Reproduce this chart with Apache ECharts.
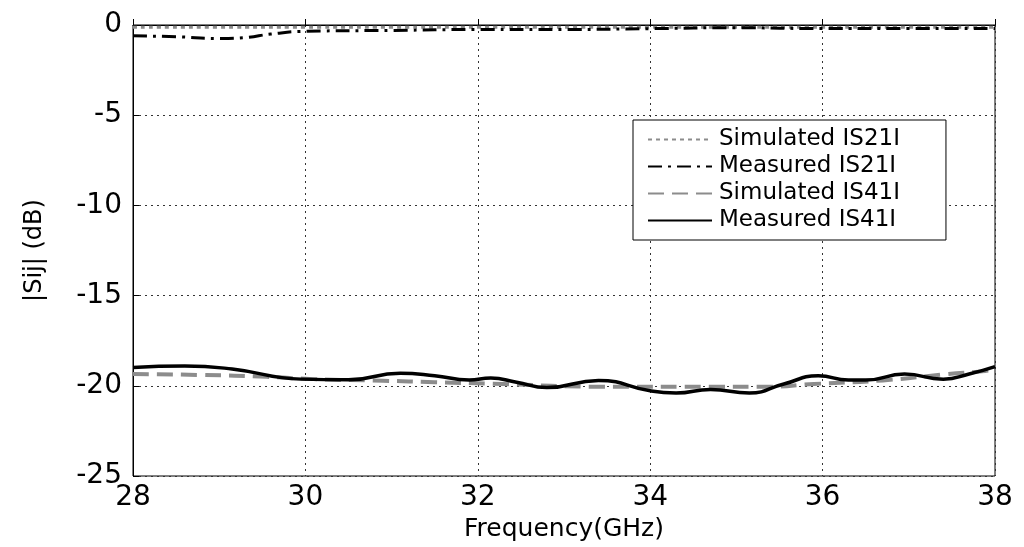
<!DOCTYPE html>
<html>
<head>
<meta charset="utf-8">
<script src="https://cdn.jsdelivr.net/npm/echarts@6/dist/echarts.min.js"></script>
<style>
  html, body { margin: 0; padding: 0; background: #fff; }
  #chart { width: 1024px; height: 547px; }
</style>
</head>
<body>
<div id="chart"></div>
<script>
const simS21Freq = [28, 29, 30, 31, 32, 33, 34, 35, 36, 37, 38]
const simS21 = [-0.12, -0.12, -0.12, -0.12, -0.12, -0.12, -0.12, -0.12, -0.12, -0.12, -0.12]

const measS21Freq = [28, 28.5, 29, 29.3, 29.6, 30, 31, 32, 33, 34, 35, 36, 37, 38]
const measS21 = [-0.6, -0.65, -0.75, -0.7, -0.5, -0.35, -0.3, -0.25, -0.25, -0.2, -0.15, -0.2, -0.2, -0.2]

const simS41Freq = [28, 28.8, 29.55, 30.1, 30.9, 31.5, 32.3, 33.4, 34.8, 35.35, 35.9, 36.7, 37.45, 37.85, 38]
const simS41 = [-19.35, -19.4, -19.5, -19.63, -19.72, -19.8, -19.9, -20.05, -20.05, -20.05, -19.9, -19.7, -19.35, -19.2, -19.1]

const measS41Freq = [28, 28.6, 29.15, 29.95, 30.5, 31.1, 31.5, 31.9, 32.15, 32.45, 32.8, 33.4, 34.0, 34.3, 34.7, 35.15, 35.55, 35.95, 36.3, 36.5, 36.95, 37.4, 37.7, 38]
const measS41 = [-18.98, -18.9, -19.07, -19.63, -19.67, -19.3, -19.44, -19.68, -19.57, -19.8, -20.1, -19.7, -20.28, -20.4, -20.2, -20.4, -19.9, -19.44, -19.68, -19.68, -19.35, -19.63, -19.35, -18.94]

const seriesNames = ['Simulated IS21I', 'Measured IS21I', 'Simulated IS41I', 'Measured IS41I']

const pairs = (xs, ys) => xs.map((x, i) => [x, ys[i]])

const chart = echarts.init(document.getElementById('chart'))
const font = 'DejaVu Sans'

chart.setOption({
  animation: false,
  textStyle: { fontFamily: font, color: '#000' },
  grid: {
    left: 133, right: 29, top: 25, bottom: 71,
    show: true, borderColor: '#000', borderWidth: 1, backgroundColor: '#fff'
  },
  legend: {
    orient: 'vertical',
    left: 633, top: 120,
    padding: [8, 46, 8, 14],
    itemGap: 4,
    itemWidth: 64,
    itemHeight: 14,
    backgroundColor: '#fff',
    borderColor: '#000',
    borderWidth: 1,
    borderRadius: 0,
    itemStyle: { opacity: 0 },
    data: seriesNames,
    textStyle: { fontSize: 23, color: '#000', fontFamily: font, padding: [0, 0, 0, 2] }
  },
  xAxis: {
    type: 'value',
    min: 28, max: 38, interval: 2,
    name: 'Frequency(GHz)',
    nameLocation: 'middle',
    nameGap: 38,
    nameTextStyle: { fontSize: 25, color: '#000' },
    axisLine: { show: true, lineStyle: { color: '#000' } },
    axisTick: { show: true, inside: true, length: 6, lineStyle: { color: '#000' } },
    axisLabel: { fontSize: 28, color: '#000', margin: 8 },
    splitLine: { show: true, lineStyle: { type: [2, 4], color: '#333', width: 1 } }
  },
  yAxis: {
    type: 'value',
    min: -25, max: 0, interval: 5,
    name: '|Sij| (dB)',
    nameLocation: 'middle',
    nameGap: 86,
    nameTextStyle: { fontSize: 24, color: '#000' },
    axisLine: { show: true, lineStyle: { color: '#000' } },
    axisTick: { show: true, inside: true, length: 6, lineStyle: { color: '#000' } },
    axisLabel: { fontSize: 28, color: '#000', margin: 11 },
    splitLine: { show: true, lineStyle: { type: [2, 4], color: '#333', width: 1 } }
  },
  series: [
    {
      name: seriesNames[0], type: 'line', symbol: 'none', smooth: true,
      data: pairs(simS21Freq, simS21),
      itemStyle: { color: '#8c8c8c' },
      lineStyle: { color: '#8c8c8c', width: 3, type: [4, 4] }
    },
    {
      name: seriesNames[1], type: 'line', symbol: 'none', smooth: true,
      data: pairs(measS21Freq, measS21),
      itemStyle: { color: '#000' },
      lineStyle: { color: '#000', width: 3, type: [14, 6, 3, 6] }
    },
    {
      name: seriesNames[2], type: 'line', symbol: 'none', smooth: true,
      data: pairs(simS41Freq, simS41),
      itemStyle: { color: '#8c8c8c' },
      lineStyle: { color: '#8c8c8c', width: 4, type: [16, 8] }
    },
    {
      name: seriesNames[3], type: 'line', symbol: 'none', smooth: true,
      data: pairs(measS41Freq, measS41),
      itemStyle: { color: '#000' },
      lineStyle: { color: '#000', width: 3.5, type: 'solid' }
    }
  ]
})
</script>
</body>
</html>
